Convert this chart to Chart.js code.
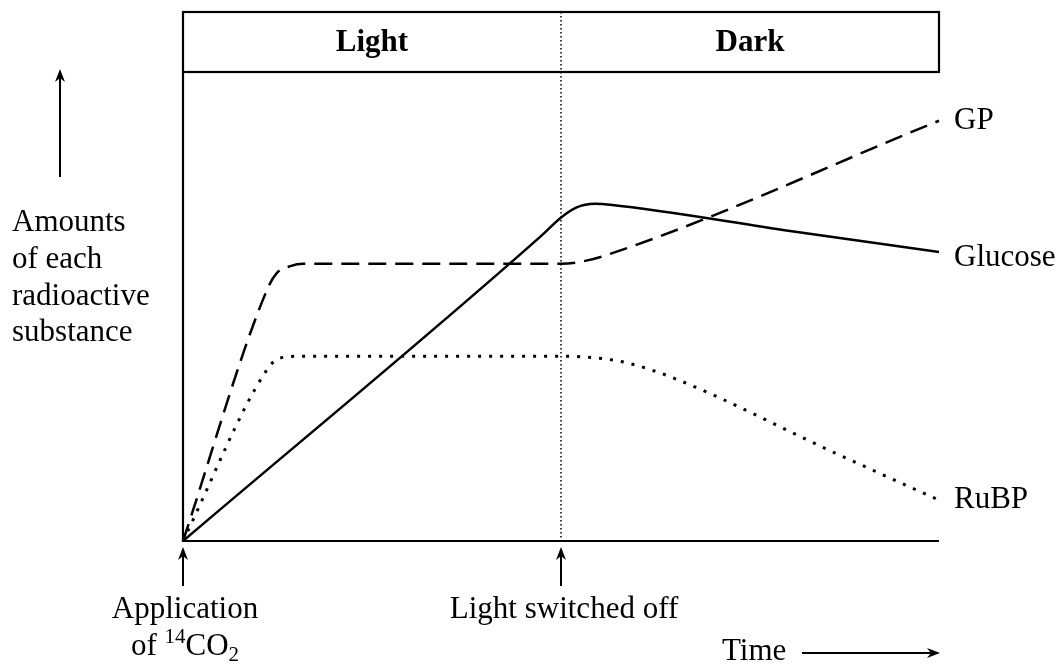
<!DOCTYPE html>
<html>
<head>
<meta charset="utf-8">
<script src="https://cdn.jsdelivr.net/npm/chart.js@4.4.0/dist/chart.umd.min.js"></script>
<style>
body{margin:0;background:#fff;}
</style>
</head>
<body>
<canvas id="myChart" width="1062" height="669"></canvas>
<script>
// values (time 0..100, amount 0..100)
var seriesNames = ['GP', 'Glucose', 'RuBP'];
var gpTime = [0, 11.1, 12.4, 14.2, 15.9, 50, 52.5, 56.1, 100];
var gpAmount = [0, 53.5, 57.1, 58.6, 59.1, 59.1, 59.5, 61.0, 89.6];
var glucoseTime = [0, 47.2, 50.1, 52, 54.5, 56.5, 80.3, 100];
var glucoseAmount = [0, 64.8, 69.1, 71.1, 71.9, 71.7, 66.1, 61.6];
var rubpTime = [0, 11.1, 12.8, 15.9, 50, 54.2, 58.7, 64.8, 86.2, 100];
var rubpAmount = [0, 36.5, 39.0, 39.4, 39.4, 39.1, 38.0, 34.8, 18.8, 8.7];
var phaseLabels = ['Light', 'Dark'];
var lightOffTime = 50;
var yLabelLines = ['Amounts', 'of each', 'radioactive', 'substance'];
var xLabel = 'Time';
var startLabel = 'Application';
var offLabel = 'Light switched off';

var serif = '"Liberation Serif", "Times New Roman", serif';

function pts(t, a){
    var out = [];
    for(var i=0;i<t.length;i++) out.push({x:t[i], y:a[i]});
    return out;
}

function arrow(ctx, x1, y1, x2, y2){
    var ang = Math.atan2(y2-y1, x2-x1);
    var len = 13, w = 5;
    ctx.beginPath();
    ctx.moveTo(x1, y1);
    ctx.lineTo(x2 - Math.cos(ang)*len*0.7, y2 - Math.sin(ang)*len*0.7);
    ctx.stroke();
    ctx.beginPath();
    ctx.moveTo(x2, y2);
    ctx.lineTo(x2 - Math.cos(ang)*len - Math.sin(ang)*w, y2 - Math.sin(ang)*len + Math.cos(ang)*w);
    ctx.lineTo(x2 - Math.cos(ang)*len*0.7, y2 - Math.sin(ang)*len*0.7);
    ctx.lineTo(x2 - Math.cos(ang)*len + Math.sin(ang)*w, y2 - Math.sin(ang)*len - Math.cos(ang)*w);
    ctx.closePath();
    ctx.fill();
}

var decor = {
    id: 'decor',
    afterDraw: function(chart){
        var ctx = chart.ctx;
        var a = chart.chartArea;
        var xs = chart.scales.x, ys = chart.scales.y;
        var divX = xs.getPixelForValue(lightOffTime);
        var headTop = a.top - 60;
        ctx.save();
        ctx.strokeStyle = '#000';
        ctx.fillStyle = '#000';

        // divider
        ctx.lineWidth = 1.5;
        ctx.setLineDash([1.5, 2.5]);
        ctx.beginPath();
        ctx.moveTo(divX, headTop);
        ctx.lineTo(divX, a.bottom);
        ctx.stroke();
        ctx.setLineDash([]);

        // header box + axes
        ctx.lineWidth = 2.2;
        ctx.strokeRect(a.left, headTop, a.right - a.left, 60);
        ctx.beginPath();
        ctx.moveTo(a.left, a.top);
        ctx.lineTo(a.left, a.bottom);
        ctx.lineTo(a.right, a.bottom);
        ctx.stroke();

        ctx.textAlign = 'center';
        ctx.textBaseline = 'middle';
        ctx.font = 'bold 31px ' + serif;
        ctx.fillText(phaseLabels[0], (a.left + divX)/2, headTop + 31);
        ctx.fillText(phaseLabels[1], (divX + a.right)/2, headTop + 31);

        // series labels at line ends
        var big = '31px ' + serif, small = '21px ' + serif;
        ctx.font = big;
        ctx.textAlign = 'left';
        var ends = [gpAmount, glucoseAmount, rubpAmount];
        var shift = [0, 6, 0];
        for(var i=0;i<seriesNames.length;i++){
            var v = ends[i][ends[i].length-1];
            ctx.fillText(seriesNames[i], a.right + 15, ys.getPixelForValue(v) + shift[i]);
        }

        // y axis label and arrow
        ctx.lineWidth = 2;
        arrow(ctx, 60, 177, 60, 69);
        for(var j=0;j<yLabelLines.length;j++){
            ctx.fillText(yLabelLines[j], 12, 223 + j*36.7);
        }

        // bottom markers
        arrow(ctx, a.left, 586, a.left, 547);
        arrow(ctx, divX, 586, divX, 547);
        ctx.textAlign = 'center';
        ctx.fillText(startLabel, a.left + 2, 610);
        ctx.fillText(offLabel, divX + 3, 610);

        // of 14CO2
        ctx.font = big; var w1 = ctx.measureText('of ').width; var w3 = ctx.measureText('CO').width;
        ctx.font = small; var w2 = ctx.measureText('14').width; var w4 = ctx.measureText('2').width;
        var x0 = a.left + 2 - (w1 + w2 + w3 + w4)/2;
        ctx.textAlign = 'left';
        ctx.font = big; ctx.fillText('of ', x0, 647);
        ctx.font = small; ctx.fillText('14', x0 + w1, 637);
        ctx.font = big; ctx.fillText('CO', x0 + w1 + w2, 647);
        ctx.font = small; ctx.fillText('2', x0 + w1 + w2 + w3, 655);

        // time arrow
        ctx.font = big;
        ctx.fillText(xLabel, 722, 652);
        ctx.lineWidth = 2;
        arrow(ctx, 802, 653, 940, 653);
        ctx.restore();
    }
};

var ctx = document.getElementById('myChart').getContext('2d');
var myChart = new Chart(ctx, {
    type: 'line',
    data: {
        datasets: [{
            label: seriesNames[0],
            data: pts(gpTime, gpAmount),
            borderDash: [18, 9],
            borderWidth: 2.5
        }, {
            label: seriesNames[1],
            data: pts(glucoseTime, glucoseAmount),
            borderWidth: 2.5
        }, {
            label: seriesNames[2],
            data: pts(rubpTime, rubpAmount),
            borderDash: [3, 8],
            borderWidth: 3
        }]
    },
    options: {
        responsive: false,
        animation: false,
        layout: { padding: { left: 183, right: 123, top: 72, bottom: 128 } },
        elements: {
            line: { borderColor: '#000', cubicInterpolationMode: 'monotone', fill: false },
            point: { radius: 0 }
        },
        datasets: { line: { clip: false } },
        plugins: { legend: { display: false }, tooltip: { enabled: false } },
        scales: {
            x: { type: 'linear', min: 0, max: 100, display: false },
            y: { type: 'linear', min: 0, max: 100, display: false }
        }
    },
    plugins: [decor]
});
</script>
</body>
</html>
